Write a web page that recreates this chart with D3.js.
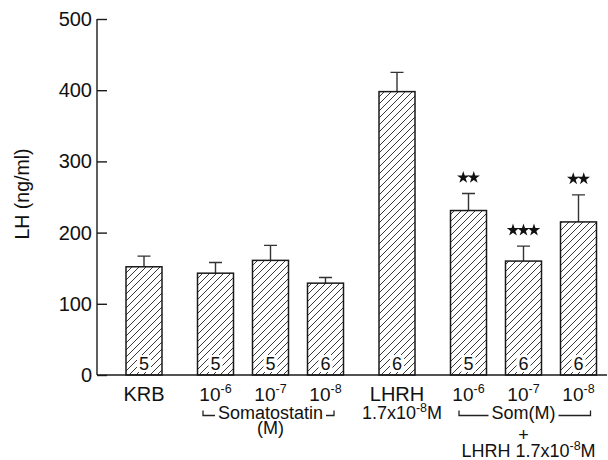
<!DOCTYPE html>
<html>
<head>
  <title>LH release</title>
  <script src="https://d3js.org/d3.v7.min.js"></script>
  <style>
    body { margin: 0; background: #fff; }
    svg { font-family: "Liberation Sans", Arial, sans-serif; fill: #111; }
    .bar { stroke: #1a1a1a; stroke-width: 1.5px; }
    .err { stroke: #333; stroke-width: 1.4px; fill: none; }
    .axis path, .axis line { stroke: #1a1a1a; stroke-width: 1.4px; }
  </style>
</head>
<body>
  <svg width="608" height="460"></svg>

  <script>
    const categories = ['KRB', 'S6', 'S7', 'S8', 'LHRH', 'C6', 'C7', 'C8'];
    const groupOf = ['KRB', 'Som', 'Som', 'Som', 'LHRH', 'Combo', 'Combo', 'Combo'];
    const doseOf = [null, '-6', '-7', '-8', null, '-6', '-7', '-8'];
    const means = [152, 143, 161, 129, 398, 231, 160, 215];
    const sems = [15, 15, 21, 8, 27, 24, 21, 38];
    const nCount = [5, 5, 5, 6, 6, 5, 6, 6];
    const stars = [0, 0, 0, 0, 0, 2, 3, 2];
    const groups = ['KRB', 'Som', 'LHRH', 'Combo'];
    const doses = ['-6', '-7', '-8'];
    const yTicks = [0, 100, 200, 300, 400, 500];

    const svg = d3.select("svg");
    const x0 = 97, base = 375, topY = 19;

    const gx = d3.scalePoint().domain(groups).range([144, 523.5]);
    const dx = d3.scalePoint().domain(doses).range([-55, 55]);
    const xc = i => gx(groupOf[i]) + (doseOf[i] ? dx(doseOf[i]) : 0);

    const y = d3.scaleLinear().domain([0, 500]).range([base, topY]);
    const barW = 36;

    // hatch pattern
    const defs = svg.append("defs");
    defs.append("pattern")
      .attr("id", "hatch")
      .attr("patternUnits", "userSpaceOnUse")
      .attr("width", 7).attr("height", 7)
      .append("path")
      .attr("d", "M-1,1 l2,-2 M0,7 l7,-7 M6,8 l2,-2")
      .attr("stroke", "#222").attr("stroke-width", 0.9);

    // axis
    const yAxis = svg.append("g")
      .attr("class", "axis")
      .attr("transform", `translate(${x0},0)`)
      .call(d3.axisRight(y).tickValues(yTicks).tickSize(10).tickSizeOuter(0));
    yAxis.selectAll("text").remove();
    yAxis.select(".domain").attr("d", `M0,${topY}V${base}`);

    svg.append("g")
      .selectAll("text")
      .data(yTicks)
      .join("text")
      .attr("x", x0 - 5)
      .attr("y", d => y(d) + 7)
      .attr("text-anchor", "end")
      .attr("font-size", 20)
      .text(d => d);

    svg.append("text")
      .attr("transform", `translate(29,${y(250) - 3}) rotate(-90)`)
      .attr("text-anchor", "middle")
      .attr("font-size", 19.5)
      .text("LH (ng/ml)");

    // bars
    const idx = d3.range(categories.length);

    svg.append("g")
      .selectAll("path")
      .data(idx)
      .join("path")
      .attr("class", "err")
      .attr("d", i => {
        const cx = xc(i), t = y(means[i] + sems[i]);
        return `M${cx},${y(means[i])}V${t}M${cx - 6.5},${t}H${cx + 6.5}`;
      });

    svg.append("g")
      .selectAll("rect")
      .data(idx)
      .join("rect")
      .attr("class", "bar")
      .attr("x", i => xc(i) - barW / 2)
      .attr("y", i => y(means[i]))
      .attr("width", barW)
      .attr("height", i => base - y(means[i]))
      .attr("fill", "url(#hatch)");

    // n labels
    const nl = svg.append("g");
    nl.selectAll("rect")
      .data(idx)
      .join("rect")
      .attr("x", i => xc(i) - 7)
      .attr("y", base - 20)
      .attr("width", 14)
      .attr("height", 17)
      .attr("fill", "#fff");
    nl.selectAll("text")
      .data(idx)
      .join("text")
      .attr("x", i => xc(i))
      .attr("y", base - 5.5)
      .attr("text-anchor", "middle")
      .attr("font-size", 18)
      .text(i => nCount[i]);

    // baseline
    svg.append("line")
      .attr("x1", x0).attr("x2", 607)
      .attr("y1", base).attr("y2", base)
      .attr("stroke", "#1a1a1a").attr("stroke-width", 1.5);

    // significance stars
    const star = d3.symbol(d3.symbolStar).size(48);
    idx.forEach(i => {
      const k = stars[i];
      const cy = y(means[i] + sems[i]) - 16;
      d3.range(k).forEach(j => {
        svg.append("path")
          .attr("d", star())
          .attr("transform", `translate(${xc(i) + (j - (k - 1) / 2) * 10.5},${cy})`)
          .attr("fill", "#111");
      });
    });

    // category labels
    const lab = svg.append("g").attr("font-size", 19).attr("text-anchor", "middle");

    function pow(sel, exp) {
      sel.append("tspan").text("10");
      sel.append("tspan").attr("dy", -8).attr("font-size", 12.5).text(exp);
    }

    idx.forEach(i => {
      const t = lab.append("text").attr("x", xc(i)).attr("y", 400.5);
      if (doseOf[i]) pow(t, doseOf[i]);
      else t.attr("font-size", 20).text(categories[i]);
    });

    const lh = lab.append("text").attr("x", gx('LHRH') + 5).attr("y", 419).attr("font-size", 18);
    lh.append("tspan").text("1.7x10");
    lh.append("tspan").attr("dy", -7).attr("font-size", 12.5).text("-8");
    lh.append("tspan").attr("dy", 7).text("M");

    function bracket(text, g, yb, left, right) {
      const t = lab.append("text").attr("x", gx(g)).attr("y", yb + 3.5).attr("font-size", 18).text(text);
      const w = t.node().getComputedTextLength();
      const c = gx(g);
      svg.append("path")
        .attr("d", `M${left},${yb - 5}V${yb}H${c - w / 2 - 3}M${c + w / 2 + 3},${yb}H${right}V${yb - 5}`)
        .attr("fill", "none").attr("stroke", "#222").attr("stroke-width", 1.3);
    }

    bracket("Somatostatin", 'Som', 415.5, xc(1) - 12.5, xc(3) + 8.5);
    lab.append("text").attr("x", gx('Som')).attr("y", 434).attr("font-size", 18).text("(M)");

    bracket("Som(M)", 'Combo', 415.5, xc(5) - 9.5, xc(7) + 12);
    lab.append("text").attr("x", gx('Combo')).attr("y", 441).attr("font-size", 18).text("+");
    const cl = lab.append("text").attr("x", gx('Combo') + 5).attr("y", 457).attr("font-size", 18);
    cl.append("tspan").text("LHRH 1.7x10");
    cl.append("tspan").attr("dy", -7).attr("font-size", 12.5).text("-8");
    cl.append("tspan").attr("dy", 7).text("M");
  </script>
</body>
</html>
